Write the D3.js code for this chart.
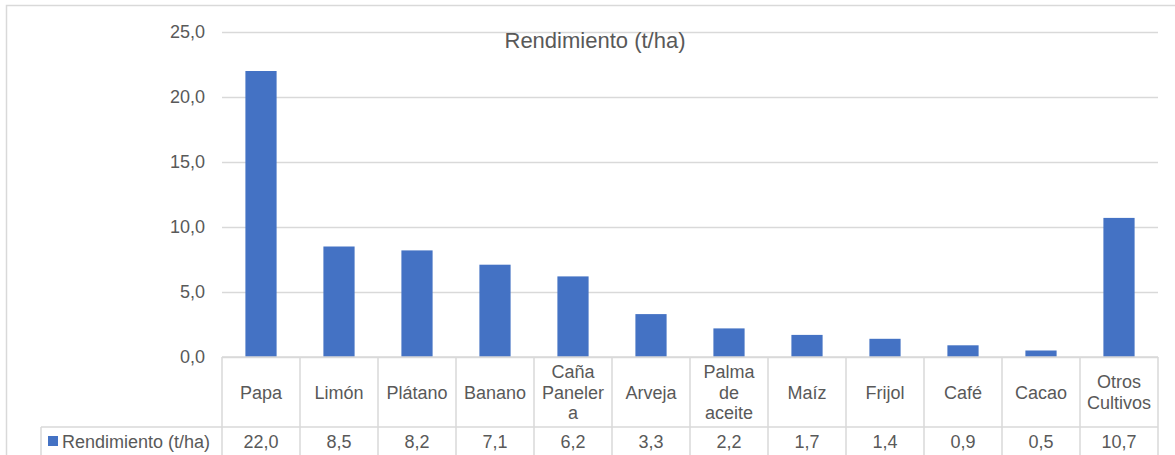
<!DOCTYPE html>
<html>
<head>
<meta charset="utf-8">
<script src="https://cdn.jsdelivr.net/npm/d3@7"></script>
<style>
  body { margin: 0; background: #fff; }
  svg text { font-family: "Liberation Sans", Arial, sans-serif; fill: #595959; }
</style>
</head>
<body>
<div id="chart"></div>
<script>
var categories = ["Papa", "Limón", "Plátano", "Banano", "Caña Panelera", "Arveja",
    "Palma de aceite", "Maíz", "Frijol", "Café", "Cacao", "Otros Cultivos"]
var labelLines = [["Papa"], ["Limón"], ["Plátano"], ["Banano"], ["Caña", "Paneler", "a"], ["Arveja"],
    ["Palma", "de", "aceite"], ["Maíz"], ["Frijol"], ["Café"], ["Cacao"], ["Otros", "Cultivos"]]
var values = [22.0, 8.5, 8.2, 7.1, 6.2, 3.3, 2.2, 1.7, 1.4, 0.9, 0.5, 10.7]
var yTicks = [0, 5, 10, 15, 20, 25]
var seriesName = "Rendimiento (t/ha)"

var barColor = "#4472C4"
var lineColor = "#d9d9d9"
var width = 1175, height = 455;
// note: "top" is reserved on window, so use plotTop
var plotLeft = 222, plotRight = 1158, plotTop = 32, zeroY = 357;
var headerBottom = 427, tableBottom = 470, legendLeft = 41;

var fmt = v => d3.format(".1f")(v).replace(".", ",")

var svg = d3.select("#chart")
    .append("svg")
    .attr("width", width)
    .attr("height", height)

// outer frame
svg.append("rect")
    .attr("x", 6.5).attr("y", 5.5)
    .attr("width", width + 10).attr("height", height + 10)
    .attr("fill", "none")
    .attr("stroke", lineColor)
    .attr("stroke-width", 1.5)

let y = d3.scaleLinear().domain([0, 25]).range([zeroY, plotTop]);
let cols = d3.scaleBand().domain(categories).range([plotLeft, plotRight]).padding(0);
let x = d3.scaleBand().domain(categories).range([plotLeft, plotRight])
    .paddingInner(0.6).paddingOuter(0.3);

// gridlines + tick labels
let yAxis = d3.axisLeft(y)
    .tickValues(yTicks)
    .tickSize(-(plotRight - plotLeft))
    .tickPadding(17)
    .tickFormat(fmt)
let gy = svg.append("g")
    .attr("transform", `translate(${plotLeft},0)`)
    .call(yAxis)
gy.select(".domain").remove()
gy.selectAll(".tick line").attr("stroke", lineColor).attr("stroke-width", 1.5)
gy.selectAll(".tick text").style("font-size", "18px").attr("fill", "#595959")
    .style("font-family", "'Liberation Sans', Arial, sans-serif")

// title
svg.append("text")
    .attr("x", 595).attr("y", 48)
    .attr("text-anchor", "middle")
    .style("font-size", "22px")
    .text(seriesName)

// bars
svg.selectAll("rect.bar")
    .data(values)
    .enter()
    .append("rect")
    .classed("bar", true)
    .attr("x", (d, i) => x(categories[i]))
    .attr("width", x.bandwidth())
    .attr("y", d => y(d))
    .attr("height", d => y(0) - y(d))
    .attr("fill", barColor)

// data table
let table = svg.append("g")
table.append("line")
    .attr("x1", plotLeft).attr("x2", plotRight)
    .attr("y1", zeroY).attr("y2", zeroY)
table.append("line")
    .attr("x1", legendLeft).attr("x2", plotRight)
    .attr("y1", headerBottom).attr("y2", headerBottom)
let edges = categories.map(c => cols(c)).concat([plotRight])
edges.forEach(e => {
    table.append("line")
        .attr("x1", e).attr("x2", e)
        .attr("y1", zeroY).attr("y2", tableBottom)
})
table.append("line")
    .attr("x1", legendLeft).attr("x2", legendLeft)
    .attr("y1", headerBottom).attr("y2", tableBottom)
table.selectAll("line").attr("stroke", lineColor).attr("stroke-width", 1.5)

// category headers
let lineH = 20.5;
let headerMid = (zeroY + headerBottom) / 2;
labelLines.forEach((lines, i) => {
    let cx = cols(categories[i]) + cols.bandwidth() / 2;
    let t = table.append("text")
        .attr("text-anchor", "middle")
        .style("font-size", "18px")
    lines.forEach((l, j) => {
        t.append("tspan")
            .attr("x", cx)
            .attr("y", headerMid + 6.5 + (j - (lines.length - 1) / 2) * lineH)
            .text(l)
    })
})

// values row
table.selectAll("text.val")
    .data(values)
    .enter()
    .append("text")
    .classed("val", true)
    .attr("x", (d, i) => cols(categories[i]) + cols.bandwidth() / 2)
    .attr("y", 448)
    .attr("text-anchor", "middle")
    .style("font-size", "18px")
    .text(d => fmt(d))

// legend key
table.append("rect")
    .attr("x", 48).attr("y", 436)
    .attr("width", 10).attr("height", 10)
    .attr("fill", barColor)
table.append("text")
    .attr("x", 62).attr("y", 448)
    .style("font-size", "18px")
    .text(seriesName)
</script>
</body>
</html>
